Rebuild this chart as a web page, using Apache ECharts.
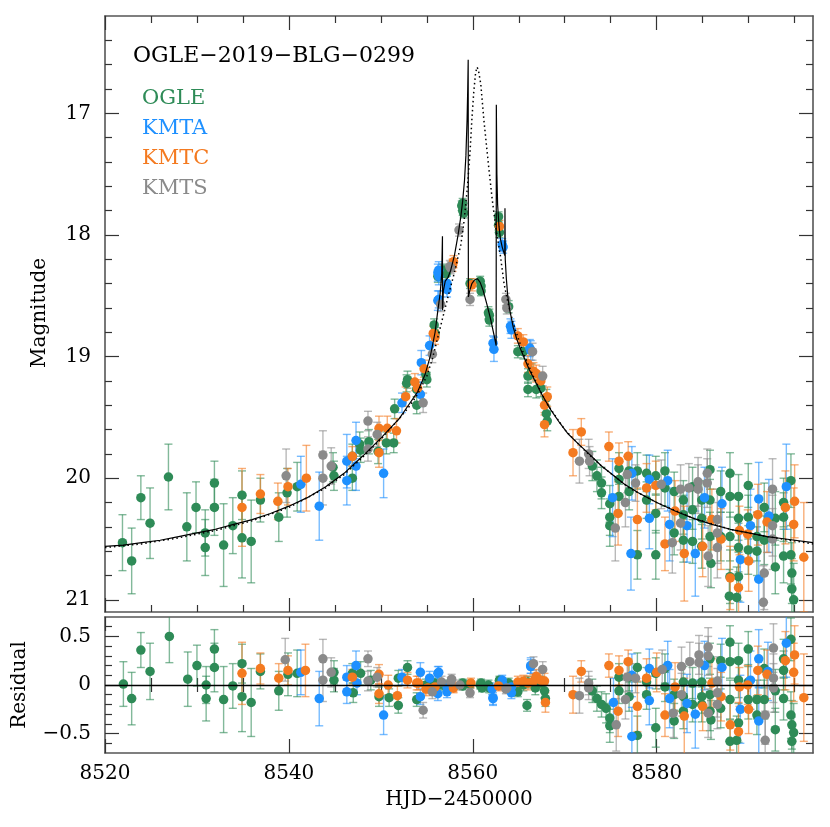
<!DOCTYPE html>
<html><head><meta charset="utf-8">
<script src="https://cdn.jsdelivr.net/npm/echarts@6/dist/echarts.min.js"></script>
<style>html,body{margin:0;padding:0;background:#fff}#c{width:830px;height:827px}</style>
</head><body><div id="c"></div><script>
// ---------- data (HJD-2450000, magnitude, error) ----------
const ogle = [
[8521.9,20.53,0.23],[8522.9,20.68,0.27],[8523.9,20.16,0.18],[8524.9,20.37,0.29],[8526.9,19.99,0.27],[8528.9,20.40,0.28],[8529.9,20.24,0.21],[8530.9,20.45,0.19],[8530.9,20.57,0.23],[8531.9,20.04,0.18],[8531.9,20.24,0.23],[8532.9,20.55,0.34],[8533.9,20.39,0.23],[8534.9,20.14,0.2],[8534.9,20.49,0.33],[8535.9,20.52,0.34],[8536.9,20.18,0.18],[8538.9,20.32,0.2],[8539.8,20.12,0.2],[8540.9,20.07,0.2],
[8544.8,19.91,0.12],[8544.9,19.98,0.12],[8546.9,20.0,0.1],[8546.9,19.82,0.1],[8547.7,19.72,0.1],[8547.8,19.77,0.1],[8548.7,19.70,0.1],[8549.7,19.78,0.1],[8550.6,19.71,0.09],[8551.4,19.71,0.08],[8551.5,19.43,0.08],[8552.8,19.22,0.07],[8552.9,19.19,0.07],[8553.9,19.27,0.06],[8553.9,19.40,0.07],[8554.9,19.15,0.06],[8555.0,19.19,0.06],[8555.8,18.74,0.05],[8555.9,18.81,0.05],[8556.2,18.34,0.05],[8556.7,18.29,0.05],[8556.9,18.30,0.05],[8557.1,18.32,0.05],[8558.8,17.76,0.04],[8558.9,17.80,0.04],[8558.9,17.74,0.04],[8559.0,17.82,0.04],[8559.7,18.40,0.04],[8560.8,18.38,0.04],[8560.9,18.42,0.04],[8560.9,18.46,0.04],[8561.7,18.64,0.05],[8561.8,18.70,0.05],[8561.8,18.66,0.05],[8562.8,17.85,0.04],[8562.8,17.92,0.04],[8562.9,17.98,0.04],[8563.9,18.59,0.05],[8564.9,18.96,0.05],[8565.5,18.96,0.06],[8566.0,19.16,0.06],[8566.0,19.27,0.06],[8566.4,19.12,0.06],[8566.9,19.27,0.07],[8567.4,19.26,0.07],[8568.0,19.34,0.07],[8568.0,19.47,0.07],[8568.1,19.53,0.08],
[8573.0,19.90,0.12],[8573.5,19.98,0.13],[8574.0,20.04,0.13],[8574.0,20.12,0.13],[8574.9,20.21,0.15],[8574.9,20.32,0.15],[8574.9,20.39,0.17],[8575.9,19.92,0.13],[8575.9,20.01,0.14],[8575.9,20.15,0.14],[8577.0,19.94,0.14],[8577.0,20.11,0.15],[8577.9,19.94,0.15],[8577.9,20.63,0.2],[8578.9,19.96,0.15],[8578.9,20.18,0.15],[8579.9,19.98,0.16],[8579.9,20.29,0.16],[8579.9,20.63,0.2],[8580.9,19.94,0.15],[8580.9,20.08,0.15],[8581.9,20.11,0.16],[8581.9,20.45,0.18],[8582.9,20.18,0.16],[8582.9,20.30,0.16],[8582.9,20.51,0.18],[8583.9,20.07,0.16],[8583.9,20.26,0.16],[8583.9,20.52,0.18],[8584.9,20.18,0.16],[8584.9,20.33,0.17],[8584.9,20.56,0.18],[8585.8,19.93,0.16],[8585.8,20.18,0.17],[8585.8,20.48,0.2],[8585.9,20.70,0.2],[8586.96,20.11,0.17],[8586.96,20.48,0.2],[8587.97,19.96,0.17],[8587.97,20.15,0.17],[8587.97,20.48,0.2],[8587.97,20.81,0.22],[8587.9,20.97,0.22],[8588.9,20.15,0.18],[8588.9,20.33,0.18],[8588.9,20.57,0.2],[8588.9,20.81,0.2],[8588.7,20.98,0.25],[8589.96,20.06,0.18],[8589.96,20.32,0.18],[8589.96,20.59,0.2],[8590.9,20.48,0.2],[8590.9,20.60,0.2],[8591.7,20.24,0.2],[8591.7,20.51,0.2],[8592.9,20.33,0.22],[8592.9,20.73,0.22],[8593.8,20.20,0.2],[8593.8,20.32,0.2],[8593.8,20.64,0.22],[8594.6,20.02,0.22],[8594.6,20.63,0.24],[8594.7,20.78,0.25],[8594.7,20.91,0.25],[8594.9,21.0,0.3]
];
const kmta = [
[8541.3,20.05,0.23],[8543.3,20.23,0.28],[8546.3,19.86,0.22],[8546.3,20.02,0.2],[8547.3,19.69,0.15],[8547.3,19.90,0.2],[8550.3,19.96,0.2],[8552.3,19.38,0.08],[8554.3,19.31,0.1],[8554.4,19.05,0.1],[8555.3,18.91,0.08],[8556.2,18.54,0.08],[8556.2,18.31,0.07],[8556.3,18.34,0.07],[8556.3,18.29,0.07],[8556.3,18.53,0.07],[8557.2,18.40,0.06],[8557.2,18.45,0.06],[8562.2,18.89,0.06],[8562.3,18.94,0.1],[8563.2,18.08,0.05],[8563.3,18.10,0.05],[8564.1,18.75,0.06],[8564.2,18.78,0.07],[8566.2,18.93,0.07],[8566.3,18.95,0.08],
[8575.2,20.16,0.32],[8577.2,20.62,0.3],[8577.3,19.96,0.22],[8579.2,20.01,0.2],[8579.2,20.33,0.25],[8581.2,20.02,0.25],[8581.4,20.38,0.3],[8583.3,20.39,0.3],[8584.2,20.62,0.35],[8585.2,20.16,0.25],[8587.1,20.21,0.3],[8589.1,20.67,0.35],[8590.2,20.39,0.3],[8591.1,20.17,0.3],[8591.1,20.83,0.35],[8592.2,20.31,0.3],[8594.1,20.07,0.35]
];
const kmtc = [
[8534.9,20.24,0.32],[8536.9,20.13,0.16],[8538.8,20.19,0.15],[8539.9,20.07,0.15],[8541.9,20.0,0.27],[8546.9,19.82,0.08],[8549.8,19.79,0.12],[8549.8,19.59,0.1],[8550.7,19.59,0.1],[8551.7,19.61,0.1],[8552.7,19.33,0.08],[8553.7,19.21,0.07],[8554.0,19.26,0.07],[8554.7,19.10,0.07],[8555.7,18.81,0.06],[8555.9,18.84,0.06],[8557.8,18.25,0.05],[8557.9,18.22,0.05],[8559.9,18.41,0.05],[8562.9,17.93,0.05],[8564.9,18.83,0.06],[8565.5,18.88,0.06],[8566.0,19.06,0.07],[8566.6,19.12,0.07],[8566.9,19.14,0.07],[8567.4,19.20,0.07],[8567.8,19.40,0.08],[8568.1,19.33,0.08],[8567.8,19.56,0.1],
[8570.9,19.79,0.19],[8571.8,19.62,0.11],[8574.8,19.74,0.12],[8575.9,19.86,0.15],[8576.9,19.82,0.12],[8575.8,20.29,0.26],[8577.9,20.34,0.26],[8578.9,20.08,0.2],[8579.9,20.06,0.2],[8580.9,20.54,0.22],[8582.0,20.27,0.25],[8583.0,20.62,0.39],[8585.0,20.56,0.25],[8586.0,20.34,0.25],[8587.0,20.50,0.25],[8588.0,20.82,0.26],[8588.9,20.90,0.3],[8589.0,20.43,0.2],[8589.9,20.46,0.2],[8590.0,20.68,0.25],[8591.0,20.30,0.25],[8592.0,20.36,0.25],[8594.0,20.24,0.3],[8594.9,20.38,0.3],[8595.0,20.19,0.3],[8596.0,20.65,0.45]
];
const kmts = [
[8539.7,19.98,0.22],[8543.7,19.81,0.2],[8543.7,20.0,0.22],[8544.6,19.90,0.15],[8548.6,19.53,0.08],[8548.6,19.76,0.1],[8549.6,19.64,0.1],[8554.6,19.38,0.08],[8555.6,18.98,0.07],[8556.5,18.57,0.06],[8557.5,18.26,0.05],[8557.6,18.27,0.05],[8558.5,17.96,0.05],[8559.7,18.53,0.05],[8563.6,18.53,0.05],[8563.7,18.60,0.05],[8566.5,18.96,0.07],[8567.6,19.16,0.08],
[8571.6,19.86,0.18],[8572.6,19.80,0.12],[8572.7,19.86,0.12],[8575.5,20.41,0.27],[8576.6,20.20,0.2],[8576.8,19.97,0.15],[8577.7,20.04,0.15],[8580.5,20.05,0.2],[8581.7,20.53,0.25],[8582.6,20.09,0.2],[8582.6,20.37,0.22],[8583.5,20.08,0.2],[8584.5,20.03,0.2],[8584.5,20.09,0.2],[8585.5,19.96,0.2],[8585.5,20.04,0.2],[8585.6,20.64,0.25],[8586.6,20.34,0.25],[8586.6,20.45,0.25],[8586.6,20.57,0.25],[8591.7,20.78,0.3],[8591.6,21.02,0.3],[8592.6,20.09,0.25],[8592.6,20.39,0.25],[8592.6,20.50,0.25]
];
// residuals (HJD-2450000, residual, error)
const ogleRes = [
[8522.0,0.01,0.23],[8522.9,-0.14,0.27],[8523.9,0.36,0.18],[8524.9,0.14,0.29],[8527.0,0.50,0.27],[8529.0,0.06,0.28],[8530.0,0.20,0.21],[8531.0,0.0,0.19],[8531.0,-0.14,0.23],[8531.9,0.37,0.2],[8531.9,0.18,0.25],[8532.9,-0.15,0.34],[8533.9,-0.01,0.23],[8534.9,0.22,0.2],[8534.9,-0.12,0.36],[8535.9,-0.18,0.35],[8536.9,0.14,0.18],[8538.9,-0.06,0.2],[8539.9,0.11,0.22],[8540.9,0.12,0.24],[8544.9,0.13,0.12],[8544.9,0.05,0.12],[8546.9,0.12,0.1],[8547.0,-0.08,0.1],[8547.8,0.12,0.12],[8548.9,0.05,0.1],[8549.8,-0.12,0.1],[8550.9,-0.13,0.09],[8551.9,0.07,0.08],[8551.9,-0.21,0.08],[8552.9,0.18,0.07],[8553.9,-0.15,0.07],[8554.9,0.0,0.06],[8555.8,0.02,0.05],[8556.2,0.0,0.05],[8556.9,0.0,0.05],[8557.1,-0.02,0.05],[8558.9,0.02,0.04],[8558.9,-0.01,0.04],[8559.7,0.01,0.04],[8560.8,0.0,0.04],[8560.9,0.02,0.04],[8561.0,-0.03,0.04],[8561.7,0.0,0.05],[8561.8,-0.03,0.05],[8562.9,0.0,0.04],[8562.9,0.05,0.04],[8563.9,0.02,0.05],[8564.9,-0.07,0.05],[8565.5,0.0,0.06],[8565.9,-0.21,0.06],[8566.0,0.03,0.06],[8566.8,-0.03,0.07],[8567.4,0.02,0.07],[8567.8,-0.06,0.07],[8567.9,-0.14,0.08],
[8573.0,-0.06,0.12],[8573.5,-0.14,0.13],[8574.0,-0.2,0.13],[8574.5,-0.24,0.15],[8574.9,-0.34,0.15],[8574.9,-0.42,0.17],[8575.9,-0.06,0.13],[8575.9,0.08,0.14],[8577.0,0.08,0.14],[8577.0,-0.12,0.15],[8577.9,0.18,0.15],[8577.9,-0.52,0.2],[8578.9,0.03,0.15],[8578.9,-0.1,0.15],[8579.9,0.12,0.16],[8579.9,-0.44,0.2],[8580.9,0.17,0.15],[8580.9,-0.02,0.15],[8581.9,-0.1,0.16],[8581.9,-0.37,0.18],[8582.9,-0.12,0.16],[8582.9,-0.27,0.18],[8582.9,0.03,0.16],[8583.9,-0.2,0.18],[8583.9,0.02,0.16],[8584.9,0.03,0.16],[8584.9,-0.2,0.18],[8584.9,-0.12,0.17],[8585.8,0.27,0.16],[8585.8,-0.1,0.17],[8585.8,-0.27,0.2],[8585.9,-0.36,0.2],[8586.96,0.25,0.17],[8586.96,-0.24,0.2],[8587.97,0.44,0.17],[8587.97,0.24,0.17],[8587.97,-0.15,0.2],[8587.97,-0.58,0.22],[8588.9,0.25,0.18],[8588.9,0.05,0.18],[8588.9,-0.39,0.2],[8588.7,-0.57,0.25],[8589.96,0.37,0.18],[8589.96,0.03,0.18],[8589.96,-0.15,0.2],[8590.9,-0.15,0.2],[8590.9,-0.31,0.2],[8591.7,0.17,0.2],[8591.7,-0.15,0.2],[8592.9,-0.06,0.22],[8592.9,-0.46,0.22],[8593.8,0.27,0.2],[8593.8,0.15,0.2],[8593.8,-0.14,0.22],[8594.6,0.47,0.22],[8594.6,-0.31,0.24],[8594.7,-0.41,0.25],[8594.7,-0.58,0.25],[8594.9,-0.49,0.3]
];
const kmtaRes = [
[8541.3,0.13,0.23],[8543.3,-0.14,0.28],[8546.3,0.08,0.12],[8546.3,-0.07,0.12],[8547.3,0.2,0.15],[8547.4,0.02,0.12],[8550.3,-0.31,0.2],[8552.3,0.08,0.08],[8554.3,0.13,0.1],[8554.3,-0.12,0.08],[8555.3,0.07,0.07],[8556.2,0.12,0.07],[8556.2,-0.09,0.07],[8556.3,0.13,0.06],[8557.2,-0.07,0.06],[8557.2,-0.02,0.06],[8562.1,-0.04,0.06],[8562.2,-0.13,0.08],[8562.2,-0.14,0.06],[8563.2,0.05,0.05],[8563.3,0.0,0.05],[8564.2,-0.08,0.06],[8564.2,-0.02,0.06],[8566.3,0.19,0.07],[8566.3,0.2,0.08],
[8575.3,-0.18,0.25],[8577.3,-0.53,0.3],[8577.3,0.1,0.22],[8579.2,-0.16,0.25],[8579.2,0.17,0.2],[8581.2,0.2,0.25],[8581.4,-0.14,0.3],[8583.3,-0.19,0.3],[8584.2,-0.3,0.35],[8585.2,0.2,0.25],[8587.1,0.18,0.3],[8589.1,-0.25,0.35],[8590.2,0.05,0.3],[8591.1,0.27,0.3],[8591.1,-0.37,0.35],[8592.1,0.14,0.3],[8594.1,0.43,0.35]
];
const kmtcRes = [
[8534.9,0.12,0.32],[8536.9,0.17,0.16],[8538.9,0.07,0.15],[8539.9,0.15,0.15],[8541.8,0.15,0.27],[8546.9,0.08,0.08],[8549.8,0.11,0.1],[8549.8,-0.09,0.1],[8550.8,0.0,0.1],[8551.8,-0.11,0.1],[8552.9,0.05,0.08],[8553.9,0.02,0.07],[8554.1,0.02,0.07],[8554.9,-0.04,0.07],[8555.1,-0.03,0.06],[8555.9,-0.02,0.06],[8557.9,-0.03,0.05],[8557.9,-0.02,0.05],[8559.8,0.02,0.05],[8562.8,-0.01,0.05],[8564.9,0.03,0.06],[8565.5,0.04,0.06],[8566.0,0.02,0.07],[8566.6,0.04,0.07],[8566.9,0.09,0.07],[8567.4,0.05,0.07],[8567.8,0.04,0.08],[8567.9,-0.18,0.1],
[8570.9,-0.1,0.19],[8571.8,0.14,0.11],[8574.8,0.2,0.12],[8575.9,0.15,0.15],[8576.9,0.24,0.12],[8575.8,-0.27,0.26],[8577.9,-0.22,0.26],[8578.9,0.07,0.2],[8580.0,0.13,0.2],[8580.9,-0.31,0.22],[8582.0,-0.02,0.25],[8583.0,-0.32,0.39],[8585.0,-0.22,0.25],[8586.0,0.02,0.25],[8587.0,-0.12,0.25],[8588.0,-0.41,0.26],[8588.9,-0.48,0.3],[8589.0,-0.02,0.2],[8590.0,-0.25,0.25],[8589.9,0.0,0.2],[8591.0,0.15,0.25],[8592.0,0.11,0.25],[8594.0,0.25,0.3],[8594.9,0.13,0.3],[8595.0,0.31,0.3],[8596.0,-0.13,0.45]
];
const kmtsRes = [
[8539.6,0.26,0.22],[8543.7,0.27,0.2],[8543.7,0.05,0.22],[8544.6,0.13,0.15],[8548.6,0.27,0.08],[8548.6,0.04,0.1],[8549.6,0.08,0.1],[8554.6,-0.26,0.08],[8555.6,-0.07,0.07],[8556.6,0.03,0.06],[8557.6,0.03,0.05],[8557.7,0.06,0.05],[8558.6,0.0,0.05],[8559.7,-0.08,0.05],[8563.6,-0.04,0.05],[8563.7,-0.03,0.05],[8566.6,0.22,0.07],[8567.6,0.16,0.08],
[8571.6,-0.11,0.18],[8572.6,0.02,0.12],[8572.6,-0.03,0.12],[8575.6,-0.41,0.27],[8576.6,-0.15,0.2],[8576.8,0.08,0.15],[8577.7,0.07,0.15],[8580.6,0.16,0.2],[8581.8,-0.29,0.25],[8582.7,0.19,0.2],[8582.7,-0.1,0.22],[8583.6,0.24,0.2],[8584.6,0.31,0.2],[8584.6,0.23,0.2],[8585.6,0.39,0.2],[8585.6,0.3,0.2],[8585.6,-0.29,0.25],[8586.6,0.04,0.25],[8586.6,-0.08,0.25],[8586.6,-0.2,0.25],[8591.8,-0.31,0.3],[8591.8,-0.57,0.3],[8592.7,0.38,0.25],[8592.7,0.07,0.25],[8592.7,-0.03,0.25]
];
// model curves (HJD-2450000, magnitude)
const modelBinary = [
[8520,20.56],[8522,20.55],[8524,20.53],[8526,20.51],[8528,20.48],[8530,20.45],[8532,20.42],[8534,20.38],[8536,20.34],[8538,20.29],[8540,20.23],[8542,20.16],[8544,20.07],[8546,19.96],[8548,19.82],[8550,19.67],[8551,19.59],[8552,19.51],[8553,19.40],[8554,19.29],[8554.8,19.15],[8555.4,18.99],[8555.9,18.80],[8556.2,18.62],[8556.45,18.48],[8556.62,18.32],[8556.7,18.01],[8556.71,18.62],[8556.8,18.46],[8557.0,18.38],[8557.3,18.35],[8557.6,18.29],[8558.0,18.17],[8558.4,18.0],[8558.7,17.85],[8558.9,17.72],[8559.1,17.55],[8559.25,17.35],[8559.38,17.05],[8559.45,16.8],[8559.5,16.56],[8559.52,18.51],[8559.7,18.45],[8559.9,18.40],[8560.2,18.37],[8560.5,18.36],[8560.8,18.39],[8561.1,18.45],[8561.5,18.56],[8561.9,18.68],[8562.3,18.82],[8562.54,18.91],[8562.56,16.93],[8562.62,17.5],[8562.7,17.75],[8562.85,17.93],[8563.0,18.03],[8563.2,18.10],[8563.4,18.15],[8563.48,18.17],[8563.5,17.78],[8563.53,18.2],[8563.65,18.36],[8563.8,18.50],[8564.0,18.61],[8564.4,18.76],[8564.8,18.86],[8565.2,18.94],[8566.1,19.10],[8566.7,19.19],[8567.5,19.31],[8568.5,19.44],[8569.5,19.55],[8570.3,19.63],[8571.5,19.72],[8572.5,19.79],[8574,19.90],[8575,19.96],[8576.5,20.05],[8578,20.12],[8580,20.20],[8582,20.27],[8584,20.33],[8586,20.38],[8588,20.42],[8590,20.45],[8592,20.48],[8594,20.50],[8597,20.53]
];
const modelSingle = [
[8520,20.57],[8524,20.54],[8528,20.49],[8532,20.43],[8536,20.35],[8540,20.24],[8544,20.08],[8546,19.97],[8548,19.83],[8550,19.68],[8552,19.51],[8553,19.42],[8554,19.31],[8555,19.16],[8555.6,19.02],[8556.2,18.84],[8556.7,18.69],[8557.3,18.51],[8558.0,18.31],[8558.7,18.08],[8559.06,17.88],[8559.4,17.62],[8559.7,17.32],[8559.9,17.05],[8560.1,16.83],[8560.3,16.67],[8560.45,16.62],[8560.6,16.64],[8560.87,16.76],[8561.2,17.05],[8561.7,17.42],[8562.1,17.70],[8562.5,17.94],[8563.0,18.17],[8563.4,18.40],[8563.8,18.55],[8564.3,18.70],[8564.9,18.84],[8565.5,18.97],[8566.5,19.15],[8568,19.38],[8570,19.60],[8572,19.76],[8574,19.90],[8577,20.08],[8580,20.20],[8584,20.33],[8588,20.42],[8592,20.48],[8597,20.54]
];
// axis ranges and ticks
const X_MIN = 8520, X_MAX = 8597;
const xMajor = [8520, 8540, 8560, 8580];
const xMinor = [8525, 8530, 8535, 8545, 8550, 8555, 8565, 8570, 8575, 8585, 8590, 8595];
const magMin = 16.2, magMax = 21.1;
const magMajor = [17, 18, 19, 20, 21];
const magMinor = [16.4, 16.6, 16.8, 17.2, 17.4, 17.6, 17.8, 18.2, 18.4, 18.6, 18.8, 19.2, 19.4, 19.6, 19.8, 20.2, 20.4, 20.6, 20.8];
const resMin = -0.7, resMax = 0.7;
const resMajor = [-0.5, 0, 0.5];
const resMinor = [-0.6, -0.4, -0.3, -0.2, -0.1, 0.1, 0.2, 0.3, 0.4, 0.6];
const datasets = [
  {name:'OGLE', main:ogle, res:ogleRes, color:'#2e8b57'},
  {name:'KMTA', main:kmta, res:kmtaRes, color:'#1e90ff'},
  {name:'KMTC', main:kmtc, res:kmtcRes, color:'#f47a20'},
  {name:'KMTS', main:kmts, res:kmtsRes, color:'#8a8a8a'}
];
const eventName = 'OGLE\u22122019\u2212BLG\u22120299';

// ---------- chart ----------
const FONT = 'DejaVu Serif';
const chart = echarts.init(document.getElementById('c'), null, {renderer:'canvas'});
const frameLine = {show:true, onZero:false, lineStyle:{color:'#555', width:1.6}};
function xAx(grid, pos, ticks, len, labels){
  return {gridIndex:grid, type:'value', min:X_MIN, max:X_MAX, position:pos,
    axisLine: len > 10 ? frameLine : {show:false},
    axisTick:{show:true, inside:true, length:len, customValues:ticks, lineStyle:{color:'#333', width:1.2}},
    axisLabel: labels ? {show:true, customValues:ticks, margin:11, fontFamily:FONT, fontSize:20, color:'#000', formatter:v => String(v)} : {show:false},
    splitLine:{show:false}, minorTick:{show:false}};
}
function yAx(grid, pos, mn, mx, inv, ticks, len, labels, fmt){
  return {gridIndex:grid, type:'value', min:mn, max:mx, inverse:inv, position:pos,
    axisLine: len > 10 ? frameLine : {show:false},
    axisTick:{show:true, inside:true, length:len, customValues:ticks, lineStyle:{color:'#333', width:1.2}},
    axisLabel: labels ? {show:true, customValues:ticks, margin:14, fontFamily:FONT, fontSize:20, color:'#000', formatter:fmt} : {show:false},
    splitLine:{show:false}, minorTick:{show:false}};
}
const resFmt = v => (v < 0 ? '\u2212' + String(-v) : String(v));
const xAxis = [
  xAx(0,'bottom',xMajor,14,false), xAx(0,'bottom',xMinor,7,false), xAx(0,'top',xMajor,14,false), xAx(0,'top',xMinor,7,false),
  xAx(1,'bottom',xMajor,14,true),  xAx(1,'bottom',xMinor,7,false), xAx(1,'top',xMajor,14,false), xAx(1,'top',xMinor,7,false)
];
const yAxis = [
  yAx(0,'left',magMin,magMax,true,magMajor,14,true, v=>String(v)), yAx(0,'left',magMin,magMax,true,magMinor,7,false),
  yAx(0,'right',magMin,magMax,true,magMajor,14,false), yAx(0,'right',magMin,magMax,true,magMinor,7,false),
  yAx(1,'left',resMin,resMax,false,resMajor,14,true,resFmt), yAx(1,'left',resMin,resMax,false,resMinor,7,false),
  yAx(1,'right',resMin,resMax,false,resMajor,14,false), yAx(1,'right',resMin,resMax,false,resMinor,7,false)
];
function errSeries(data, color, xi, yi){
  return {type:'custom', xAxisIndex:xi, yAxisIndex:yi, clip:true, z:2, silent:true, data:data,
    encode:{x:0, y:1},
    renderItem:(p, api) => {
      const t = api.value(0), v = api.value(1), e = api.value(2);
      const a = api.coord([t, v - e]), b = api.coord([t, v + e]);
      const st = {stroke:color, lineWidth:1.4, opacity:0.6};
      return {type:'group', children:[
        {type:'line', shape:{x1:a[0], y1:a[1], x2:b[0], y2:b[1]}, style:st},
        {type:'line', shape:{x1:a[0]-4, y1:a[1], x2:a[0]+4, y2:a[1]}, style:st},
        {type:'line', shape:{x1:b[0]-4, y1:b[1], x2:b[0]+4, y2:b[1]}, style:st}
      ]};
    }};
}
function dotSeries(data, color, xi, yi){
  return {type:'scatter', xAxisIndex:xi, yAxisIndex:yi, data:data, symbolSize:9.5, z:3, silent:true,
    itemStyle:{color:color, opacity:1}, clip:true};
}
const series = [];
datasets.forEach(d => { series.push(errSeries(d.main, d.color, 0, 0)); series.push(errSeries(d.res, d.color, 4, 4)); });
series.push({type:'line', xAxisIndex:4, yAxisIndex:4, data:[], z:1, silent:true,
  markLine:{silent:true, symbol:'none', label:{show:false}, animation:false,
    lineStyle:{color:'#000', width:1.3, type:'solid'}, data:[{yAxis:0}]}});
datasets.forEach(d => { series.push(dotSeries(d.main, d.color, 0, 0)); series.push(dotSeries(d.res, d.color, 4, 4)); });
series.push({type:'line', xAxisIndex:0, yAxisIndex:0, data:modelSingle, showSymbol:false, z:5, silent:true, clip:true,
  lineStyle:{color:'#000', width:1.5, type:[1.5, 3]}});
series.push({type:'line', xAxisIndex:0, yAxisIndex:0, data:modelBinary, showSymbol:false, z:6, silent:true, clip:true,
  lineStyle:{color:'#000', width:1.2}});

const graphic = [
  {type:'text', left:133, top:45, style:{text:eventName, font:'22px "DejaVu Serif"', fill:'#000'}},
  {type:'text', rotation:Math.PI/2, x:40, y:313, style:{text:'Magnitude', font:'20px "DejaVu Serif"', fill:'#000', align:'center', verticalAlign:'middle', textAlign:'center', textVerticalAlign:'middle'}},
  {type:'text', rotation:Math.PI/2, x:20, y:685, style:{text:'Residual', font:'20px "DejaVu Serif"', fill:'#000', align:'center', verticalAlign:'middle', textAlign:'center', textVerticalAlign:'middle'}},
  {type:'text', x:459, y:800, style:{text:'HJD\u22122450000', font:'20px "DejaVu Serif"', fill:'#000', align:'center', verticalAlign:'middle', textAlign:'center', textVerticalAlign:'middle'}}
];
datasets.forEach((d, i) => {
  graphic.push({type:'text', x:142, y:99 + i*29.7, style:{text:d.name, font:'21px "DejaVu Serif"', fill:d.color, align:'left', verticalAlign:'middle', textAlign:'left', textVerticalAlign:'middle'}});
});

chart.setOption({
  animation:false,
  backgroundColor:'#fff',
  grid:[{left:105, top:16, width:708, height:596}, {left:105, top:617, width:708, height:136}],
  xAxis:xAxis, yAxis:yAxis, series:series, graphic:graphic
});
</script></body></html>
